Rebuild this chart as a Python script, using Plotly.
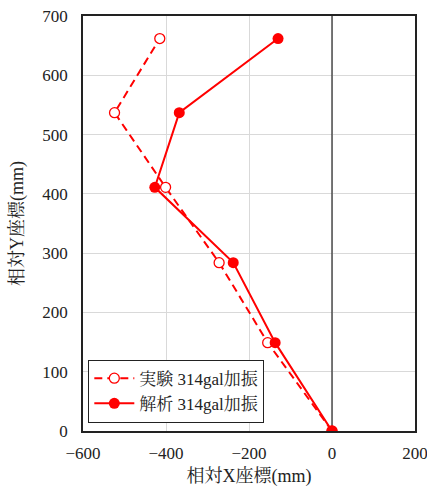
import plotly.graph_objects as go

exp_x = [0, -155, -272, -401, -524, -415]
exp_y = [0, 149, 284, 411, 537, 662]
ana_x = [0, -137, -238, -427, -368, -130]
ana_y = [0, 149, 284, 411, 537, 662]
name_exp = "実験 314gal加振"
name_ana = "解析 314gal加振"
x_ticks = [-600, -400, -200, 0, 200]
y_ticks = [0, 100, 200, 300, 400, 500, 600, 700]

FONT = "Liberation Serif, Times New Roman, Noto Serif CJK JP, Noto Sans CJK JP, serif"
red = "#ff0000"

fig = go.Figure()
fig.add_trace(go.Scatter(x=exp_x, y=exp_y, name=name_exp, mode="lines+markers",
                         line=dict(color=red, width=2, dash="8px,5px"),
                         marker=dict(symbol="circle", size=10, color="white", line=dict(width=1.3, color=red))))
fig.add_trace(go.Scatter(x=ana_x, y=ana_y, name=name_ana, mode="lines+markers",
                         line=dict(color=red, width=2),
                         marker=dict(symbol="circle", size=11, color=red)))

fig.add_shape(type="line", x0=0, x1=0, y0=0, y1=700, xref="x", yref="y",
              line=dict(color="#333333", width=1.3), layer="between")

fig.update_layout(
    width=427, height=487,
    margin=dict(l=83, r=12, t=16, b=56),
    plot_bgcolor="white", paper_bgcolor="white",
    font=dict(family=FONT, size=15, color="#222222"),
    showlegend=True,
    legend=dict(x=0.016, y=0.172, xanchor="left", yanchor="top",
                bordercolor="#222222", borderwidth=1, bgcolor="white",
                font=dict(size=17), tracegroupgap=0, itemwidth=40),
    xaxis=dict(range=[-600, 200], tickvals=x_ticks, showgrid=True, gridcolor="#d9d9d9",
               gridwidth=1, zeroline=False, showline=True, linecolor="#222222", linewidth=1.5,
               mirror=True, ticks="", title=dict(text="相対X座標(mm)", standoff=14),
               tickfont=dict(size=17), automargin=False, ticklabeloverflow="allow",
               ticklabelstandoff=6),
    yaxis=dict(range=[0, 700], tickvals=y_ticks, showgrid=True, gridcolor="#d9d9d9",
               gridwidth=1, zeroline=False, showline=True, linecolor="#222222", linewidth=1.5,
               mirror=True, ticks="", title=dict(text="相対Y座標(mm)", standoff=14),
               tickfont=dict(size=17), automargin=False, ticklabelstandoff=10),
)

fig.write_html("out.html")
